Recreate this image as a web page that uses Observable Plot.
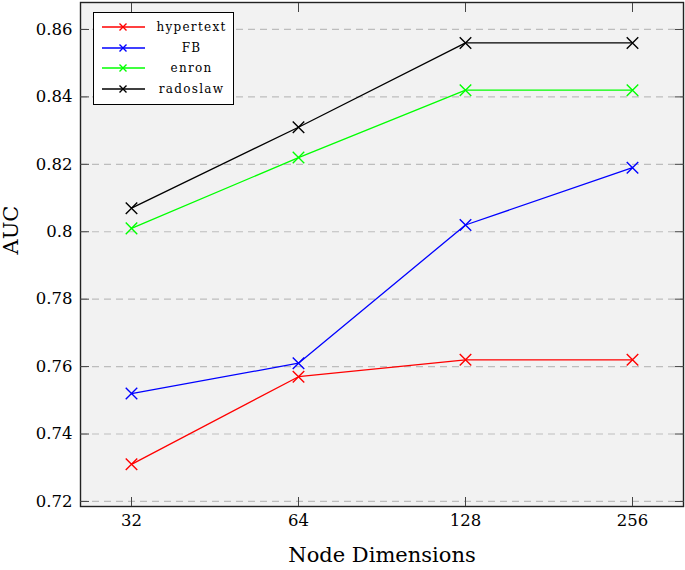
<!DOCTYPE html>
<html>
<head>
<meta charset="utf-8">
<script src="https://cdn.jsdelivr.net/npm/d3@7"></script>
<script src="https://cdn.jsdelivr.net/npm/@observablehq/plot@0.6"></script>
<style>
  html, body { margin: 0; padding: 0; background: #fff; }
  #wrap { position: relative; width: 685px; height: 570px; }
  #legend {
    position: absolute; left: 93px; top: 12px; width: 141px; height: 93px;
    background: #fff; border: 1.3px solid #000; box-sizing: border-box;
    font-family: "DejaVu Serif", serif; font-size: 12px; letter-spacing: 1.3px; color: #000;
  }
  .row { position: absolute; left: 0; width: 100%; height: 20px; }
  .row svg { position: absolute; left: 8px; top: 0; }
  .row span { position: absolute; left: 56px; right: 0; text-align: center; line-height: 20px; }
</style>
</head>
<body>
<div id="wrap"><div id="legend"></div></div>
<script>
const dims = [32, 64, 128, 256];
const seriesNames = ["hypertext", "FB", "enron", "radoslaw"];
const seriesColors = ["#ff0000", "#0000ff", "#00ff00", "#000000"];
const hypertext = [0.731, 0.757, 0.762, 0.762];
const fb = [0.752, 0.761, 0.802, 0.819];
const enron = [0.801, 0.822, 0.842, 0.842];
const radoslaw = [0.807, 0.831, 0.856, 0.856];
const yTicks = [0.72, 0.74, 0.76, 0.78, 0.80, 0.82, 0.84, 0.86];
const yTickLabels = ["0.72", "0.74", "0.76", "0.78", "0.8", "0.82", "0.84", "0.86"];
const xTickLabels = ["32", "64", "128", "256"];

const allValues = [hypertext, fb, enron, radoslaw];
const data = [];
seriesNames.forEach((s, i) => dims.forEach((d, j) => data.push({series: s, dim: d, auc: allValues[i][j]})));

const yLabelOf = new Map(yTicks.map((t, i) => [t, yTickLabels[i]]));
const xLabelOf = new Map(dims.map((t, i) => [t, xTickLabels[i]]));

const font = "DejaVu Serif, serif";
const tick = -9;

const chart = Plot.plot({
  width: 685,
  height: 570,
  marginLeft: 80,
  marginRight: 2,
  marginTop: 2,
  marginBottom: 64,
  style: {fontFamily: font, background: "transparent"},
  x: {type: "point", domain: dims, padding: 0.295},
  y: {domain: [0.7185, 0.868]},
  color: {domain: seriesNames, range: seriesColors},
  marks: [
    Plot.frame({fill: "#f2f2f2", stroke: null}),
    Plot.gridY(yTicks, {stroke: "#bdbdbd", strokeOpacity: 1, strokeDasharray: "7,5", strokeWidth: 1.2}),
    Plot.line(data, {x: "dim", y: "auc", z: "series", stroke: "series", strokeWidth: 1.3}),
    Plot.dot(data, {x: "dim", y: "auc", stroke: "series", symbol: "times", r: 5.3, strokeWidth: 1.4}),
    Plot.frame({stroke: "#222", strokeWidth: 1.4}),
    Plot.axisY(yTicks, {anchor: "left", tickSize: tick, tickPadding: 17, tickFormat: (d) => yLabelOf.get(d), fontSize: 16.5, label: null, stroke: "#444"}),
    Plot.axisY(yTicks, {anchor: "right", tickSize: tick, tickPadding: 0, tickFormat: () => "", label: null, stroke: "#444"}),
    Plot.axisX(dims, {anchor: "bottom", tickSize: tick, tickPadding: 17, tickFormat: (d) => xLabelOf.get(d), fontSize: 16.5, label: null, stroke: "#444"}),
    Plot.axisX(dims, {anchor: "top", tickSize: tick, tickPadding: 0, tickFormat: () => "", label: null, stroke: "#444"}),
    Plot.text(["Node Dimensions"], {frameAnchor: "bottom", dy: 55, fontSize: 21, fill: "#000"}),
    Plot.text(["AUC"], {frameAnchor: "left", dx: -69, rotate: -90, fontSize: 21, fill: "#000", letterSpacing: 4})
  ]
});
document.getElementById("wrap").prepend(chart);

const legend = document.getElementById("legend");
seriesNames.forEach((s, i) => {
  const row = document.createElement("div");
  row.className = "row";
  row.style.top = (4 + i * 20.5) + "px";
  row.innerHTML = `<svg width="46" height="20"><line x1="0" y1="10" x2="43" y2="10" stroke="${seriesColors[i]}" stroke-width="1.3"/>` +
    `<path d="M17.5,6.5L24.5,13.5M17.5,13.5L24.5,6.5" stroke="${seriesColors[i]}" stroke-width="1.4"/></svg><span>${s}</span>`;
  legend.appendChild(row);
});
</script>
</body>
</html>
